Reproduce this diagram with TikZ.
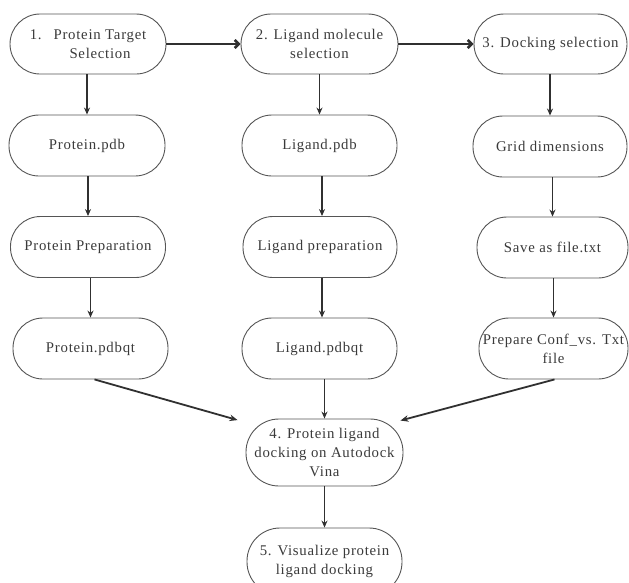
\documentclass[tikz,border=0pt]{standalone}
\usepackage{fontspec}
\setmainfont{Liberation Serif}[LetterSpace=5]
\usetikzlibrary{arrows.meta,calc}
\definecolor{boxline}{HTML}{555555}
\definecolor{txt}{HTML}{3A3A3A}
\definecolor{arr}{HTML}{303030}
\begin{document}
\begin{tikzpicture}[x=1pt,y=-1pt,
  stadium/.style={draw=boxline, line width=0.9pt, rounded corners=30pt,
    minimum width=#1, minimum height=61pt, inner sep=0pt, align=center,
    text=txt, font=\fontsize{14.8}{19}\selectfont},
  stadium/.default=155pt,
  vconn/.style={draw=arr, line width=1.7pt, -{Stealth[length=7pt,width=6pt]}},
  dconn/.style={draw=arr, line width=1.8pt, -{Stealth[length=8pt,width=6.5pt]}},
  hconn/.style={draw=arr, line width=2.6pt, -{Straight Barb[length=4pt,width=8pt]}}]
\useasboundingbox (0,0) rectangle (629,582);
\clip (0,0) rectangle (629,582);
% row 1
\node[stadium=156pt, minimum height=60pt] (n1) at (88,44) {1.\hspace{12pt}Protein Target\\\hspace*{24pt}Selection};
\node[stadium=157pt, minimum height=60pt] (n2) at (319.5,44) {2. Ligand molecule\\selection};
\node[stadium=153pt, minimum height=60pt] (n3) at (550.5,44) {3. Docking selection};
% column 1
\node[stadium=156pt] (p1) at (87,145.5) {Protein.pdb};
\node[stadium=155pt] (p2) at (88,247) {Protein Preparation};
\node[stadium=155pt] (p3) at (90.5,348.5) {Protein.pdbqt};
% column 2
\node[stadium=155pt] (l1) at (319.5,145.5) {Ligand.pdb};
\node[stadium=154pt] (l2) at (320,247) {Ligand preparation};
\node[stadium=155pt] (l3) at (319.5,348.5) {Ligand.pdbqt};
% column 3
\node[stadium=154pt] (g1) at (550,146.5) {Grid dimensions};
\node[stadium=151pt] (g2) at (552.5,247.5) {Save as file.txt};
\node[stadium=149pt] (g3) at (553.5,348.5) {Prepare Conf\_vs. Txt\\file};
% bottom
\node[stadium=157pt, minimum height=67pt, rounded corners=33pt] (n4) at (324.5,452.5) {4. Protein ligand\\docking on Autodock\\Vina};
\node[stadium=155pt, minimum height=67pt, rounded corners=33pt] (n5) at (324.5,561.5) {5. Visualize protein\\ligand docking};
% horizontal connectors
\draw[hconn] (n1.east) -- (n2.west);
\draw[hconn] (n2.east) -- (n3.west);
% vertical connectors
\draw[vconn] (n1.south -| p1.north) -- (p1.north);
\draw[vconn] (p1.south -| p2.north) -- (p2.north);
\draw[vconn] (p3.north |- p2.south) -- (p3.north);
\coordinate (c2) at (322,0);
\draw[vconn] (n2.south -| l1.north) -- (l1.north);
\draw[vconn] (l1.south -| c2) -- (l2.north -| c2);
\draw[vconn] (l2.south -| c2) -- (l3.north -| c2);
\draw[vconn] (n3.south -| g1.north) -- (g1.north);
\draw[vconn] (g2.north |- g1.south) -- (g2.north);
\draw[vconn] (g3.north |- g2.south) -- (g3.north);
\draw[vconn] (n4.north |- l3.south) -- (n4.north);
\draw[vconn] (n4.south) -- (n5.north);
% diagonal connectors
\coordinate (e1) at ($(n4.north west)+(-8,1.5)$);
\coordinate (e2) at ($(n4.north east)+(-3,2)$);
\draw[dconn] ($(p3.south)+(4,0)$) -- (e1);
\draw[dconn] ($(g3.south)+(1,0)$) -- (e2);
\end{tikzpicture}
\end{document}
